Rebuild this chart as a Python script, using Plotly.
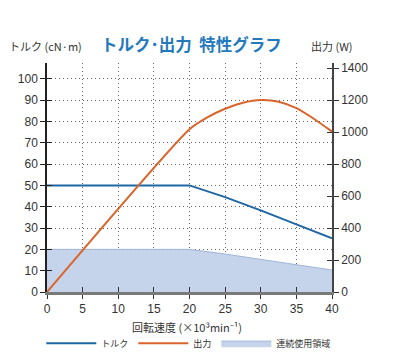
import plotly.graph_objects as go

speed_torque = [0, 5, 10, 15, 20, 25, 30, 35, 40]
torque = [50, 50, 50.1, 50, 50, 44.5, 38.3, 31.7, 25.2]

speed_power = [0, 20, 22.5, 25, 27.5, 30, 32.5, 35, 37.5, 40]
power = [0, 1018, 1092, 1146, 1183, 1200, 1190, 1150, 1082, 1003]

speed_cont = [0, 20, 25, 30, 35, 40]
cont_torque = [20, 20, 17.8, 15.3, 12.8, 10.3]

x_ticks = [0, 5, 10, 15, 20, 25, 30, 35, 40]
y_ticks = [0, 10, 20, 30, 40, 50, 60, 70, 80, 90, 100]
y2_ticks = [0, 200, 400, 600, 800, 1000, 1200, 1400]

BLUE = "#1f67a4"
ORANGE = "#d8652b"
FILL = "#c6d4eb"
FONT = "Liberation Sans, Arial, Noto Sans CJK JP"
JP = "Noto Sans CJK JP, Liberation Sans"
GRID = "#666"
DOT = "1px,3px"

YMAX = 107.4
Y2MAX = YMAX * 1200 / 90

fig = go.Figure()
fig.add_trace(go.Scatter(x=speed_cont, y=cont_torque, mode="lines", name="連続使用領域",
                         fill="tozeroy", fillcolor=FILL, legendrank=3,
                         line=dict(color="#9fb4d6", width=1)))
fig.add_trace(go.Scatter(x=speed_torque, y=torque, mode="lines", name="トルク", legendrank=1,
                         line=dict(color=BLUE, width=2)))
fig.add_trace(go.Scatter(x=speed_power, y=power, mode="lines", name="出力", yaxis="y2", legendrank=2,
                         line=dict(color=ORANGE, width=2, shape="spline", smoothing=0.6)))

fig.update_layout(
    width=417, height=363,
    margin=dict(l=39, r=93, t=55, b=79, autoexpand=False),
    paper_bgcolor="white", plot_bgcolor="white",
    font=dict(family=FONT, size=11, color="#333"),
    showlegend=True,
    legend=dict(orientation="h", x=-0.02, xanchor="left", y=-0.16, yanchor="top",
                traceorder="normal", itemwidth=50,
                font=dict(family=JP, size=9, color="#333"),
                bgcolor="rgba(0,0,0,0)"),
    xaxis=dict(range=[0, 40], tickvals=x_ticks, showgrid=True, gridcolor=GRID,
               griddash=DOT, gridwidth=1, zeroline=False,
               showline=True, linecolor="#7a7a7a", linewidth=3,
               ticks="outside", ticklen=4, tickcolor="#333", tickwidth=1,
               tickfont=dict(size=12, color="#333")),
    yaxis=dict(range=[0, YMAX], tickvals=y_ticks, showgrid=True, gridcolor=GRID,
               griddash=DOT, gridwidth=1, zeroline=False,
               showline=True, linecolor="#222", linewidth=1.5,
               ticks="outside", ticklen=5, tickcolor="#222", tickwidth=1,
               tickfont=dict(size=12, color="#333")),
    yaxis2=dict(range=[0, Y2MAX], tickvals=y2_ticks, overlaying="y", side="right",
                showgrid=False, zeroline=False, showline=True, linecolor="#444", linewidth=1.5,
                ticks="outside", ticklen=5, tickcolor="#333", tickwidth=1,
                tickfont=dict(size=12, color="#333")),
    yaxis3=dict(range=[0, YMAX], tickvals=y_ticks, overlaying="y", side="left",
                showticklabels=False, showgrid=False, zeroline=False,
                ticks="inside", ticklen=5, tickcolor="#222", tickwidth=1),
    yaxis4=dict(range=[0, Y2MAX], tickvals=y2_ticks, overlaying="y", side="right",
                showticklabels=False, showgrid=False, zeroline=False,
                ticks="inside", ticklen=5, tickcolor="#333", tickwidth=1),
    xaxis2=dict(range=[0, 40], tickvals=x_ticks, overlaying="x", side="bottom",
                showticklabels=False, showgrid=False, zeroline=False,
                ticks="inside", ticklen=5, tickcolor="#333", tickwidth=1),
    annotations=[
        dict(text="<b>トルク･出力  特性グラフ</b>", x=0.507, y=1.085, xref="paper", yref="paper",
             xanchor="center", yanchor="middle", showarrow=False,
             font=dict(family=JP, size=16.5, color="#2479bd")),
        dict(text="トルク (cN·m)", x=-0.14, y=1.075, xref="paper", yref="paper",
             xanchor="left", yanchor="middle", showarrow=False,
             font=dict(family=JP, size=11, color="#333")),
        dict(text="出力 (W)", x=0.92, y=1.075, xref="paper", yref="paper",
             xanchor="left", yanchor="middle", showarrow=False,
             font=dict(family=JP, size=11, color="#333")),
        dict(text="回転速度 (×10³min⁻¹)", x=0.49, y=-0.152, xref="paper", yref="paper",
             xanchor="center", yanchor="middle", showarrow=False,
             font=dict(family=JP, size=11, color="#333")),
    ],
)
fig.add_trace(go.Scatter(x=[None], y=[None], yaxis="y3", showlegend=False, hoverinfo="skip"))
fig.add_trace(go.Scatter(x=[None], y=[None], yaxis="y4", showlegend=False, hoverinfo="skip"))
fig.add_trace(go.Scatter(x=[None], y=[None], xaxis="x2", showlegend=False, hoverinfo="skip"))

fig.write_html("out.html")
